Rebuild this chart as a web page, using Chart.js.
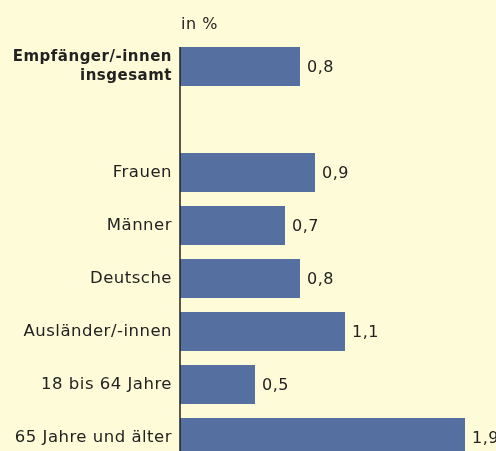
<!DOCTYPE html>
<html>
<head>
<meta charset="utf-8">
<script src="https://cdn.jsdelivr.net/npm/chart.js@4"></script>
<style>
  html, body { margin: 0; padding: 0; overflow: hidden; background: #fefcd8; }
  canvas { display: block; }
</style>
</head>
<body>
<canvas id="chartEmpfaenger" width="496" height="464"></canvas>
<script>
const CATEGORIES = [
    ["Empfänger/-innen", "insgesamt"],
    "",
    "Frauen",
    "Männer",
    "Deutsche",
    "Ausländer/-innen",
    "18 bis 64 Jahre",
    "65 Jahre und älter"
];
const VALUES = [0.8, null, 0.9, 0.7, 0.8, 1.1, 0.5, 1.9];
const UNIT_LABEL = "in %";

const FONT_FAMILY = "'DejaVu Sans', sans-serif";
const FONT_SIZE = 16.5;
const TEXT_COLOR = "#222222";

const chartEmpfaenger = createEmpfaengerChart();

function createEmpfaengerChart() {

    const letterSpacing = {
        id: 'letterSpacing',
        beforeDraw(chart) {
            chart.ctx.letterSpacing = '0.5px';
        }
    };

    const valueLabels = {
        id: 'valueLabels',
        afterDatasetsDraw(chart) {
            const ctx = chart.ctx;
            const meta = chart.getDatasetMeta(0);
            ctx.save();
            ctx.font = "16px " + FONT_FAMILY;
            ctx.fillStyle = TEXT_COLOR;
            ctx.textBaseline = 'middle';
            ctx.textAlign = 'left';
            meta.data.forEach((bar, i) => {
                const v = VALUES[i];
                if (v === null) return;
                ctx.fillText(v.toFixed(1).replace('.', ','), bar.x + 7, bar.y + 1);
            });
            // unit label above the axis
            ctx.fillText(UNIT_LABEL, chart.chartArea.left + 1, 25);
            // axis line, starting at the first bar
            const first = meta.data[0];
            ctx.strokeStyle = "#222222";
            ctx.lineWidth = 1.5;
            ctx.beginPath();
            ctx.moveTo(chart.chartArea.left, first.y - first.height / 2);
            ctx.lineTo(chart.chartArea.left, chart.chartArea.bottom);
            ctx.stroke();
            ctx.restore();
        }
    };

    const data = {
        labels: CATEGORIES,
        datasets: [{
            data: VALUES,
            backgroundColor: "#5570a0",
            barPercentage: 0.74,
            categoryPercentage: 1.0,
        }]
    };

    const config = {
        type: 'bar',
        data: data,
        options: {
            indexAxis: 'y',
            responsive: false,
            animation: false,
            layout: {
                padding: { top: 40, right: 16, bottom: 0, left: 0 }
            },
            plugins: {
                legend: { display: false },
                tooltip: { enabled: false },
            },
            scales: {
                x: {
                    display: false,
                    min: 0,
                    max: 2,
                },
                y: {
                    border: { display: false },
                    grid: { display: false, drawTicks: false },
                    afterFit: (scale) => {
                        scale.width = 180;
                        scale.paddingTop = 0;
                        scale.paddingBottom = 0;
                    },
                    ticks: {
                        padding: 8,
                        color: TEXT_COLOR,
                        font: (context) => context.index === 0
                            ? { family: FONT_FAMILY, size: 15, weight: 'bold', lineHeight: 1.26 }
                            : { family: FONT_FAMILY, size: FONT_SIZE, weight: 'normal', lineHeight: 1.2 },
                    }
                }
            }
        },
        plugins: [letterSpacing, valueLabels]
    };

    return new Chart(
        document.getElementById('chartEmpfaenger'),
        config
    );
}
</script>
</body>
</html>
